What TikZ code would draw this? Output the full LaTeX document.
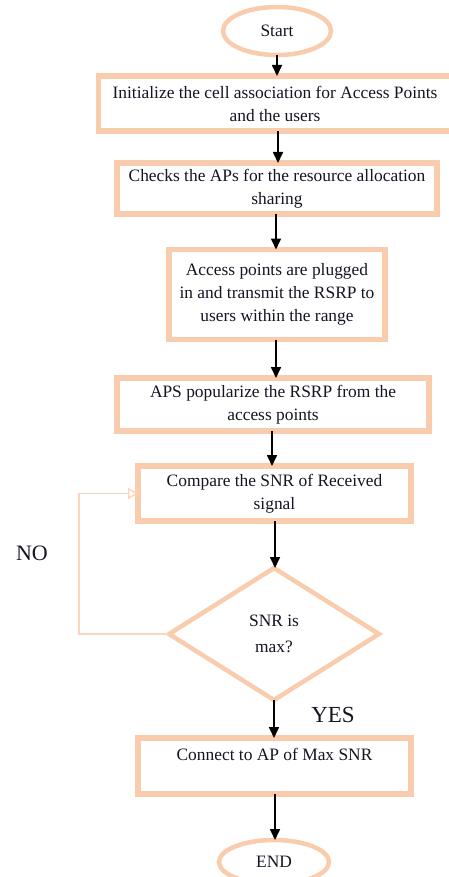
\documentclass[tikz,border=0pt]{standalone}
\usepackage{fontspec}
\setmainfont{Liberation Serif}
\usetikzlibrary{arrows.meta,shapes.geometric}
\definecolor{peach}{RGB}{248,204,172}
\definecolor{lpeach}{RGB}{250,214,188}
\definecolor{ink}{RGB}{20,20,35}
\begin{document}
\begin{tikzpicture}[x=1pt,y=-1pt,
 every node/.style={font=\fontsize{17.4}{23}\selectfont, text=ink},
 boxnode/.style={draw=peach, line width=5.2pt, rectangle, inner sep=0pt, outer sep=0pt, align=center},
 term/.style={draw=peach, line width=4.5pt, ellipse, inner sep=0pt, outer sep=0pt},
 decision/.style={draw=peach, line width=4.5pt, diamond, inner sep=0pt, outer sep=0pt, align=center, font=\fontsize{17.4}{26}\selectfont},
 arr/.style={-{Triangle[length=11pt,width=10pt]}, line width=1.7pt, black},
 looparr/.style={-{Triangle[open,length=10pt,width=11pt]}, line width=1.4pt, lpeach}]
\useasboundingbox (0,0) rectangle (449,877);

\node[term, minimum width=108pt, minimum height=48pt] (start) at (277,31) {Start};
\node[boxnode, minimum width=353pt, minimum height=55pt] (b1) at (275,103.5)
  {Initialize the cell association for Access Points\\and the users};
\node[boxnode, minimum width=320pt, minimum height=51pt] (b2) at (277,188.5)
  {Checks the APs for the resource allocation\\sharing};
\node[boxnode, minimum width=216pt, minimum height=90pt] (b3) at (277,294.5)
  {Access points are plugged\\in and transmit the RSRP to\\users within the range};
\node[boxnode, minimum width=312pt, minimum height=53pt] (b4) at (273,404.5)
  {APS popularize the RSRP from the\\access points};
\node[boxnode, minimum width=273pt, minimum height=55pt] (b5) at (274.5,493.5)
  {Compare the SNR of Received\\signal};
\node[decision, minimum width=210pt, minimum height=132pt] (dia) at (274,634)
  {SNR is\\max?};
\node[boxnode, minimum width=273pt, minimum height=56pt] (b6) at (274.5,766)
  {Connect to AP of Max SNR\\[-7pt]\strut};
\node[term, minimum width=110pt, minimum height=44pt] (end) at (274,862) {END};

\node[font=\fontsize{22}{24}\selectfont] (no) at (32,553) {NO};
\node[font=\fontsize{23}{25}\selectfont] (yes) at (333,715) {YES};

\draw[arr] (start.south) -- (start.south |- b1.north);
\draw[arr] (b1.south -| 278,0) -- (b2.north -| 278,0);
\draw[arr] (b2.south -| 276,0) -- (b3.north -| 276,0);
\draw[arr] (b3.south -| 276,0) -- (b4.north -| 276,0);
\draw[arr] (b4.south -| 272,0) -- (b5.north -| 272,0);
\draw[arr] (b5.south -| 275,0) -- (dia.north -| 275,0);
\draw[arr] (dia.south) -- (dia.south |- b6.north);
\draw[arr] (b6.south -| 275,0) -- (end.north -| 275,0);

\coordinate (lp) at (79,634);
\draw[looparr] (dia.west) -- (lp) |- (b5.west);
\end{tikzpicture}
\end{document}
